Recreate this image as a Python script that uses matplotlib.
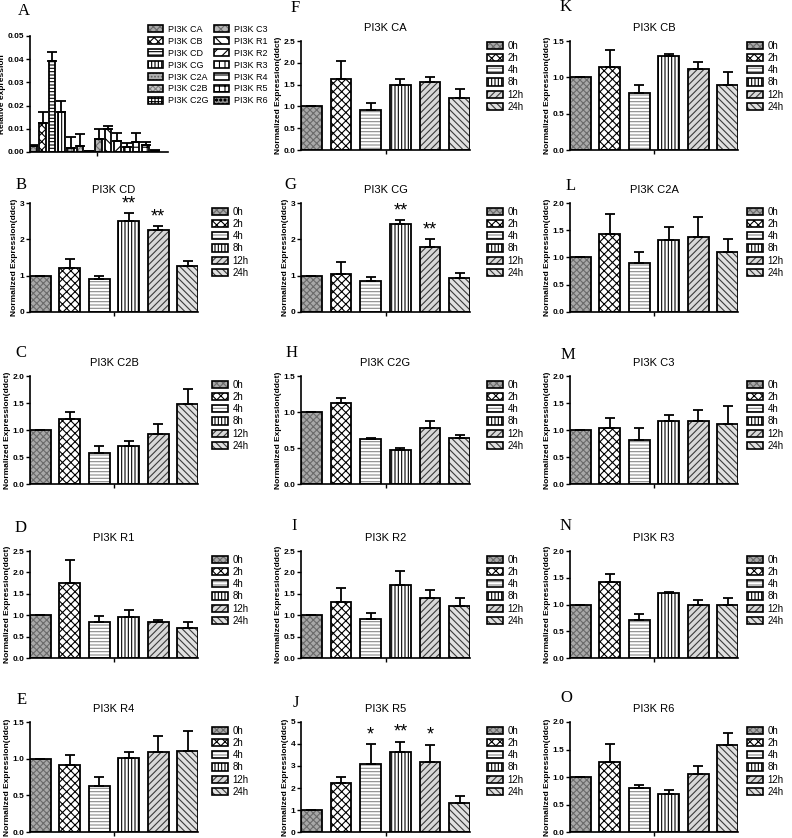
import numpy as np
import matplotlib
matplotlib.use('Agg')
import matplotlib.pyplot as plt
from matplotlib.patches import Patch
from matplotlib.legend_handler import HandlerTuple
from matplotlib.ticker import FormatStrFormatter

plt.rcParams['font.family'] = ['Liberation Sans', 'DejaVu Sans']
plt.rcParams['hatch.linewidth'] = 0.8

W, H = 792, 838

times = ['0h', '2h', '4h', '8h', '12h', '24h']

# panel A: relative expression of the 14 subunits
genes = ['PI3K CA', 'PI3K CB', 'PI3K CD', 'PI3K CG', 'PI3K C2A', 'PI3K C2B', 'PI3K C2G',
         'PI3K C3', 'PI3K R1', 'PI3K R2', 'PI3K R3', 'PI3K R4', 'PI3K R5', 'PI3K R6']
rel_mean = [0.0028, 0.0125, 0.0393, 0.0171, 0.0018, 0.0026, 0.0005,
            0.0056, 0.0100, 0.0049, 0.0021, 0.0042, 0.0029, 0.0006]
rel_err = [0.0003, 0.0048, 0.0040, 0.0050, 0.0045, 0.0050, 0.0001,
           0.0045, 0.0011, 0.0031, 0.0018, 0.0038, 0.0012, 0.0003]

# time course panels (mean, error)
ca_mean = [1.00, 1.63, 0.91, 1.49, 1.56, 1.20]
ca_err = [0.00, 0.41, 0.17, 0.13, 0.11, 0.19]
cb_mean = [1.00, 1.14, 0.79, 1.30, 1.11, 0.89]
cb_err = [0.00, 0.23, 0.10, 0.02, 0.10, 0.19]
cd_mean = [1.00, 1.22, 0.91, 2.50, 2.27, 1.26]
cd_err = [0.00, 0.23, 0.09, 0.22, 0.09, 0.15]
cg_mean = [1.00, 1.05, 0.85, 2.43, 1.80, 0.93]
cg_err = [0.00, 0.32, 0.11, 0.09, 0.20, 0.13]
c2a_mean = [1.00, 1.43, 0.90, 1.32, 1.37, 1.11]
c2a_err = [0.00, 0.37, 0.21, 0.24, 0.37, 0.23]
c2b_mean = [1.00, 1.20, 0.58, 0.71, 0.93, 1.48]
c2b_err = [0.00, 0.14, 0.12, 0.09, 0.18, 0.28]
c2g_mean = [1.00, 1.13, 0.62, 0.47, 0.78, 0.64]
c2g_err = [0.00, 0.07, 0.02, 0.03, 0.09, 0.04]
c3_mean = [1.00, 1.03, 0.82, 1.16, 1.16, 1.11]
c3_err = [0.00, 0.19, 0.22, 0.11, 0.21, 0.34]
r1_mean = [1.00, 1.76, 0.85, 0.96, 0.84, 0.69]
r1_err = [0.00, 0.53, 0.12, 0.17, 0.05, 0.14]
r2_mean = [1.00, 1.31, 0.91, 1.71, 1.40, 1.21]
r2_err = [0.00, 0.33, 0.14, 0.32, 0.19, 0.19]
r3_mean = [1.00, 1.42, 0.71, 1.21, 1.00, 1.00]
r3_err = [0.00, 0.15, 0.11, 0.03, 0.08, 0.12]
r4_mean = [1.00, 0.92, 0.63, 1.01, 1.09, 1.11]
r4_err = [0.00, 0.13, 0.12, 0.08, 0.22, 0.27]
r5_mean = [1.00, 2.23, 3.11, 3.64, 3.20, 1.31]
r5_err = [0.00, 0.29, 0.87, 0.46, 0.76, 0.32]
r6_mean = [1.00, 1.27, 0.80, 0.69, 1.06, 1.58]
r6_err = [0.00, 0.33, 0.05, 0.07, 0.14, 0.22]

# (facecolor, hatch, hatch colour)
time_styles = [('#a8a8a8', 'xxxxx', '#6a6a6a'),
               ('white', 'xxxx', 'black'),
               ('white', '-----', '#8a8a8a'),
               ('white', '|||||', 'black'),
               ('#d8d8d8', '/////', '#3a3a3a'),
               ('#e0e0e0', '\\\\\\\\\\', '#3a3a3a')]
gene_styles = [('#a8a8a8', 'xxxxx', '#6a6a6a'), ('white', 'xxxx', 'black'),
               ('white', '-----', 'black'), ('white', '|||||', 'black'),
               ('#b0b0b0', '.....', '#606060'), ('#c8c8c8', 'xxxxxx', '#808080'),
               ('white', '+++++', 'black'), ('#b8b8b8', 'xxxx', '#707070'),
               ('white', '\\\\\\', 'black'), ('white', '///', 'black'),
               ('white', '|||', 'black'), ('white', '---', 'black'),
               ('white', '+++', 'black'), ('#909090', 'oooo', 'black')]

cols = [(30, 198), (301, 470), (570, 738)]
rows = [(41, 150), (203, 312), (376, 484), (551, 658), (722, 832)]
leg_x = [212, 487, 747]

fig = plt.figure(figsize=(W / 100, H / 100), dpi=100)


def px_axes(x0, y0, x1, y1):
    return fig.add_axes([x0 / W, 1 - y1 / H, (x1 - x0) / W, (y1 - y0) / H])


def draw_bars(ax, vals, errs, styles, w=0.7):
    x = np.arange(len(vals))
    for i in range(len(vals)):
        fc, hatch, hc = styles[i]
        ax.bar(x[i], vals[i], w, color=fc, edgecolor=hc, hatch=hatch, lw=0, zorder=2)
        ax.bar(x[i], vals[i], w, fill=False, edgecolor='black', lw=1.3, zorder=3)
    ax.errorbar(x, vals, yerr=[np.zeros(len(errs)), errs], fmt='none', ecolor='black',
                elinewidth=1.3, capsize=3.5, capthick=1.3, zorder=4)


def style_axes(ax, ymax, ystep, fmt, xmid):
    for s in ['top', 'right']:
        ax.spines[s].set_visible(False)
    for s in ['left', 'bottom']:
        ax.spines[s].set_linewidth(1.2)
    ax.set_ylim(0, ymax)
    ax.set_yticks(np.arange(0, ymax + ystep / 2, ystep))
    ax.yaxis.set_major_formatter(FormatStrFormatter(fmt))
    ax.set_xticks([xmid])
    ax.set_xticklabels([''])
    ax.tick_params(axis='both', length=3, width=1, labelsize=6, pad=1.2)
    for t in ax.get_yticklabels():
        t.set_fontweight('bold')


def make_handles(styles):
    hs = []
    for fc, hatch, hc in styles:
        hs.append((Patch(facecolor=fc, edgecolor=hc, hatch=hatch, lw=0),
                   Patch(fill=False, edgecolor='black', lw=1.2)))
    return hs


# panel A
axA = px_axes(30, 36, 168, 152)
draw_bars(axA, rel_mean, rel_err, gene_styles, w=0.7)
axA.set_xlim(-0.35, 14.4)
style_axes(axA, 0.05, 0.01, '%.2f', 6.8)
axA.set_ylabel('Relative expression', fontsize=6, fontweight='bold', labelpad=1)
axA.legend(make_handles(gene_styles), genes, ncol=2, loc='upper left',
           bbox_to_anchor=(148 / W, 1 - 25 / H), bbox_transform=fig.transFigure,
           frameon=False, fontsize=6.5, handlelength=1.7, handleheight=0.8,
           handletextpad=0.5, labelspacing=0.32, columnspacing=0.6,
           borderpad=0, borderaxespad=0,
           handler_map={tuple: HandlerTuple(ndivide=1, pad=0)})
fig.text(24 / W, 1 - 11 / H, 'A', family='Liberation Serif', fontsize=12, ha='center', va='center')

panels = [
    ('F', 'PI3K CA', ca_mean, ca_err, 2.5, 0.5, '%.1f', {}, 1, 0, (295, 8)),
    ('K', 'PI3K CB', cb_mean, cb_err, 1.5, 0.5, '%.1f', {}, 2, 0, (566, 7)),
    ('B', 'PI3K CD', cd_mean, cd_err, 3, 1, '%d', {3: '**', 4: '**'}, 0, 1, (21, 185)),
    ('G', 'PI3K CG', cg_mean, cg_err, 3, 1, '%d', {3: '**', 4: '**'}, 1, 1, (290, 185)),
    ('L', 'PI3K C2A', c2a_mean, c2a_err, 2.0, 0.5, '%.1f', {}, 2, 1, (571, 186)),
    ('C', 'PI3K C2B', c2b_mean, c2b_err, 2.0, 0.5, '%.1f', {}, 0, 2, (21, 353)),
    ('H', 'PI3K C2G', c2g_mean, c2g_err, 1.5, 0.5, '%.1f', {}, 1, 2, (292, 353)),
    ('M', 'PI3K C3', c3_mean, c3_err, 2.0, 0.5, '%.1f', {}, 2, 2, (568, 355)),
    ('D', 'PI3K R1', r1_mean, r1_err, 2.5, 0.5, '%.1f', {}, 0, 3, (21, 528)),
    ('I', 'PI3K R2', r2_mean, r2_err, 2.5, 0.5, '%.1f', {}, 1, 3, (294, 526)),
    ('N', 'PI3K R3', r3_mean, r3_err, 2.0, 0.5, '%.1f', {}, 2, 3, (566, 526)),
    ('E', 'PI3K R4', r4_mean, r4_err, 1.5, 0.5, '%.1f', {}, 0, 4, (22, 700)),
    ('J', 'PI3K R5', r5_mean, r5_err, 5, 1, '%d', {2: '*', 3: '**', 4: '*'}, 1, 4, (296, 703)),
    ('O', 'PI3K R6', r6_mean, r6_err, 2.0, 0.5, '%.1f', {}, 2, 4, (566, 698)),
]

for letter, title, mean, err, ymax, ystep, fmt, stars, c, r, lpos in panels:
    x0, x1 = cols[c]
    y0, y1 = rows[r]
    ax = px_axes(x0, y0, x1, y1)
    draw_bars(ax, mean, err, time_styles)
    ax.set_xlim(-0.35, 5.35)
    style_axes(ax, ymax, ystep, fmt, 2.5)
    ax.set_ylabel('Normalized Expression(ddct)', fontsize=6, fontweight='bold', labelpad=1)
    ax.set_title(title, fontsize=8, pad=7)
    for i, s in stars.items():
        ax.text(i, mean[i] + err[i] + ymax * 0.01, s, ha='center', va='bottom', fontsize=13)
    top = y0 + (0 if r == 0 else 4)
    ax.legend(make_handles(time_styles), times, loc='upper left',
              bbox_to_anchor=(leg_x[c] / W, 1 - top / H), bbox_transform=fig.transFigure,
              frameon=False, fontsize=7, handlelength=1.6, handleheight=0.75,
              handletextpad=0.5, labelspacing=0.22, borderpad=0, borderaxespad=0,
              handler_map={tuple: HandlerTuple(ndivide=1, pad=0)})
    fig.text(lpos[0] / W, 1 - lpos[1] / H, letter, family='Liberation Serif', fontsize=12,
             ha='center', va='center')

fig.savefig('out.png', dpi=100)
